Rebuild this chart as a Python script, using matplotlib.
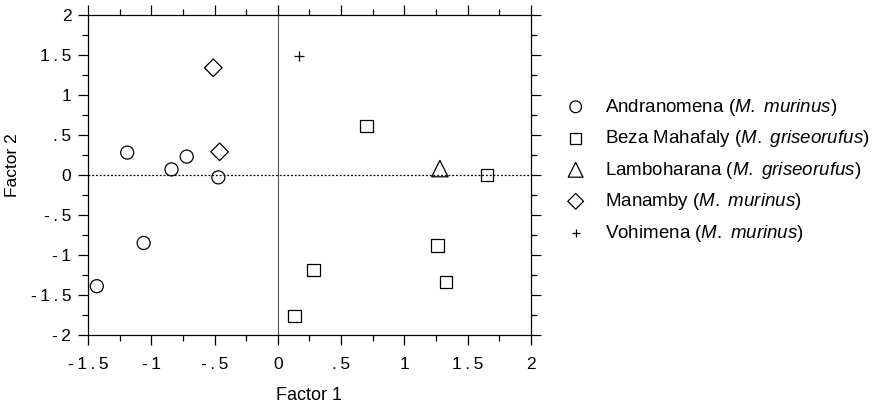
import numpy as np
import matplotlib
matplotlib.use("Agg")
import matplotlib.pyplot as plt
from matplotlib.ticker import MultipleLocator, FixedLocator

plt.rcParams['font.family'] = ['Liberation Sans', 'DejaVu Sans']
plt.rcParams['mathtext.fontset'] = 'custom'
plt.rcParams['mathtext.rm'] = 'Liberation Sans'
plt.rcParams['mathtext.it'] = 'Liberation Sans:italic'

# factor scores
andra_x = [-1.19, -0.84, -0.72, -0.47, -1.06, -1.43]
andra_y = [0.28, 0.07, 0.23, -0.03, -0.85, -1.39]
beza_x = [0.70, 1.65, 1.26, 1.33, 0.28, 0.13]
beza_y = [0.61, 0.00, -0.88, -1.34, -1.19, -1.76]
lambo_x = [1.28]
lambo_y = [0.08]
mana_x = [-0.51, -0.46]
mana_y = [1.34, 0.29]
vohi_x = [0.17]
vohi_y = [1.49]

labels = [r"Andranomena ($\mathit{M.\ murinus}$)",
          r"Beza Mahafaly ($\mathit{M.\ griseorufus}$)",
          r"Lamboharana ($\mathit{M.\ griseorufus}$)",
          r"Manamby ($\mathit{M.\ murinus}$)",
          r"Vohimena ($\mathit{M.\ murinus}$)"]

xticks = [-1.5, -1, -0.5, 0, 0.5, 1, 1.5, 2]
xticklabels = ["-1.5", "-1", "-.5", "0", ".5", "1", "1.5", "2"]
yticks = [-2, -1.5, -1, -0.5, 0, 0.5, 1, 1.5, 2]
yticklabels = ["- 2", "-1.5", "-1", "-.5", "0", ".5", "1", "1.5", "2"]

# old typeset labels are letter-spaced
spaced = lambda s: "\u2009".join(s.replace(" ", ""))

fig = plt.figure(figsize=(8.77, 4.15), dpi=100)
ax = fig.add_axes([0.1003, 0.1928, 0.5052, 0.7711])

ax.axhline(0, color='black', lw=0.9, ls=(0, (1.5, 1.5)), zorder=1)
ax.axvline(0, color='#555555', lw=0.8, zorder=1)

kw = dict(facecolor='none', edgecolor='black', linewidths=0.9, zorder=3)
h1 = ax.scatter(andra_x, andra_y, marker='o', s=88, **kw)
h2 = ax.scatter(beza_x, beza_y, marker='s', s=80, **kw)
h3 = ax.scatter(lambo_x, lambo_y, marker='^', s=140, **kw)
h4 = ax.scatter(mana_x, mana_y, marker='D', s=80, **kw)
h5 = ax.scatter(vohi_x, vohi_y, marker='+', s=45, c='black', linewidths=0.9, zorder=3)

ax.set_xlim(-1.5, 2)
ax.set_ylim(-2, 2)
ax.xaxis.set_major_locator(FixedLocator(xticks))
ax.set_xticklabels([spaced(t) for t in xticklabels])
ax.yaxis.set_major_locator(FixedLocator(yticks))
ax.set_yticklabels([spaced(t) for t in yticklabels])
ax.xaxis.set_minor_locator(MultipleLocator(0.25))
ax.yaxis.set_minor_locator(MultipleLocator(0.25))
ax.tick_params(which='both', direction='out', top=True, right=True,
               labeltop=False, labelright=False, width=0.9, colors='black')
ax.tick_params(which='major', length=7, labelsize=12.5)
ax.tick_params(axis='x', which='major', pad=9)
ax.tick_params(axis='y', which='major', pad=5)
ax.tick_params(which='minor', length=4)
for sp in ax.spines.values():
    sp.set_linewidth(0.9)

ax.set_xlabel("Factor 1", fontsize=13)
ax.xaxis.set_label_coords(0.5, -0.1625)
ax.set_ylabel("Factor 2", fontsize=12.5)
ax.yaxis.set_label_coords(-0.153, 0.53)

fig.legend([h1, h2, h3, h4, h5], labels, loc='upper left',
           bbox_to_anchor=(0.635, 0.785), frameon=False, fontsize=13.5,
           handletextpad=0.95, labelspacing=0.56, markerscale=0.9,
           borderaxespad=0, handlelength=1.2)

fig.savefig("out.png", dpi=100)
